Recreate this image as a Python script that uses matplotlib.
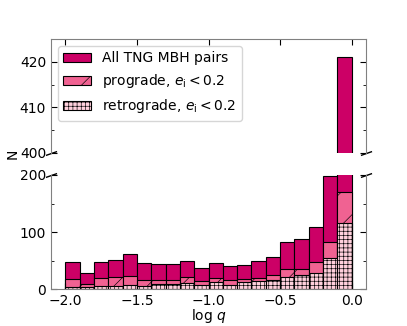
import numpy as np
import matplotlib
matplotlib.use('Agg')
import matplotlib.pyplot as plt

# bin edges in log q and counts
bin_edges = np.round(np.arange(-2.0, 0.01, 0.1), 2)
n_all = [48, 29, 48, 51, 61, 46, 45, 44, 50, 38, 46, 41, 42, 50, 57, 82, 88, 109, 198, 421]
n_pro = [18, 10, 19, 21, 23, 16, 17, 16, 21, 15, 19, 16, 18, 19, 25, 35, 35, 47, 83, 171]
n_retro = [4, 4, 5, 6, 7, 6, 9, 10, 11, 8, 12, 8, 12, 15, 16, 22, 25, 28, 54, 116]

c_all = '#cc0066'
c_pro = '#f06292'
c_retro = '#ffd0dc'

plt.rcParams['font.size'] = 10
plt.rcParams['hatch.linewidth'] = 0.45

fig = plt.figure(figsize=(4.07, 3.26), dpi=100)
ax_top = fig.add_axes([0.1253, 0.5307, 0.774, 0.3497])
ax_bot = fig.add_axes([0.1253, 0.1126, 0.774, 0.3506])

left = bin_edges[:-1]
width = np.diff(bin_edges)

for ax in [ax_top, ax_bot]:
    ax.bar(left, n_all, width=width, align='edge', color=c_all,
           edgecolor='k', linewidth=0.8, label='All TNG MBH pairs')
    ax.bar(left, n_pro, width=width, align='edge', color=c_pro,
           edgecolor='k', linewidth=0.8, hatch='/',
           label=r'prograde, $e_{\rm i} < 0.2$')
    ax.bar(left, n_retro, width=width, align='edge', color=c_retro,
           edgecolor='k', linewidth=0.8, hatch='++++',
           label=r'retrograde, $e_{\rm i} < 0.2$')
    ax.set_xlim(-2.1, 0.1)
    ax.set_xticks([-2.0, -1.5, -1.0, -0.5, 0.0])
    for sp in ax.spines.values():
        sp.set_color('gray')
    ax.tick_params(which='both', direction='in', right=True)
    ax.tick_params(which='major', length=4)
    ax.tick_params(which='minor', length=2)

ax_top.set_ylim(400, 425)
ax_top.set_yticks([400, 410, 420])
ax_top.set_yticks([405, 415], minor=True)
ax_top.spines['bottom'].set_visible(False)
ax_top.tick_params(axis='x', bottom=False, labelbottom=False, top=True)

ax_bot.set_ylim(0, 200)
ax_bot.set_yticks([0, 100, 200])
ax_bot.set_yticks([50, 150], minor=True)
ax_bot.spines['top'].set_visible(False)
ax_bot.tick_params(axis='x', top=False)
ax_bot.set_xticklabels(['\u22122.0', '\u22121.5', '\u22121.0', '\u22120.5', '0.0'])
ax_bot.set_xlabel(r'$\log\,q$', labelpad=-1)

# break marks
kw = dict(marker=[(-1, -0.35), (1, 0.35)], markersize=8, linestyle='none',
          color='k', mec='k', mew=1, clip_on=False)
ax_top.plot([0, 1], [0, 0], transform=ax_top.transAxes, **kw)
ax_bot.plot([0, 1], [1, 1], transform=ax_bot.transAxes, **kw)

fig.text(0.03, 0.527, 'N', rotation=90, ha='center', va='center')

ax_top.legend(loc='upper left', fontsize=10)

fig.savefig('out.png', dpi=100)
